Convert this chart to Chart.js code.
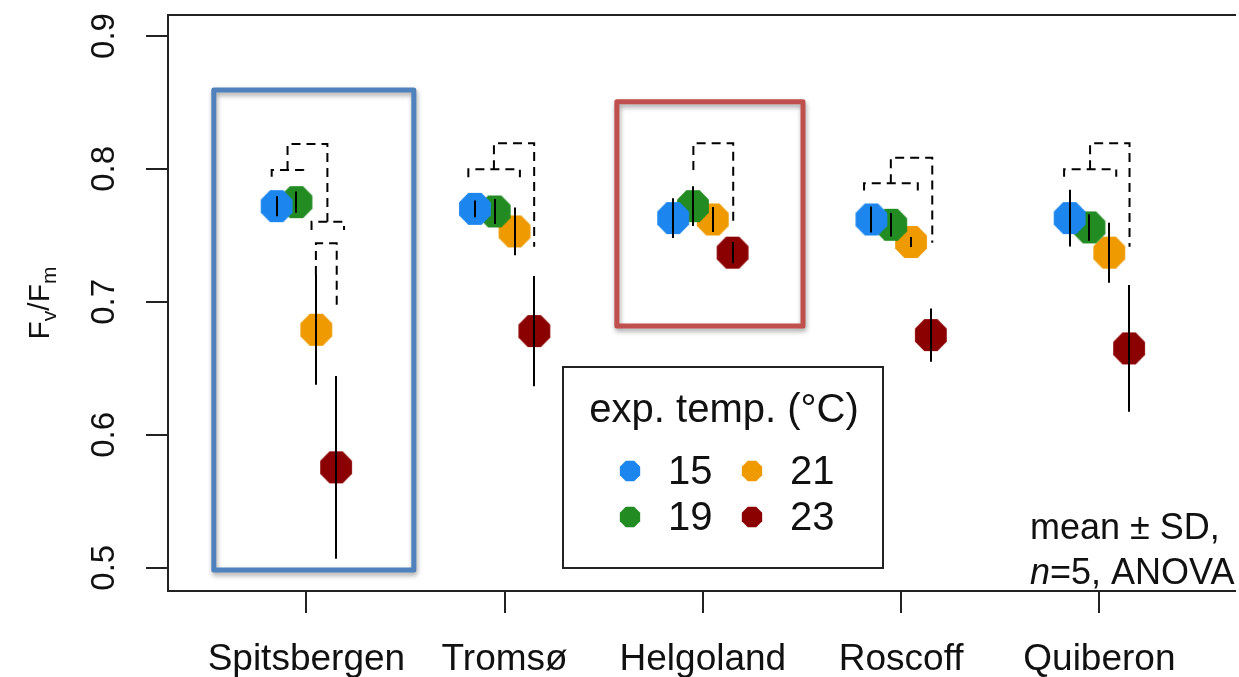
<!DOCTYPE html>
<html><head><meta charset="utf-8">
<script src="https://cdn.jsdelivr.net/npm/chart.js@4.4.1/dist/chart.umd.min.js"></script>
<style>html,body{margin:0;padding:0;background:#fff;overflow:hidden}#wrap{width:1239px;height:677px;position:relative}</style>
</head><body><div id="wrap"><canvas id="c" width="1239" height="677"></canvas></div>
<script>
// ---- data ----
const sites = ['Spitsbergen', 'Tromsø', 'Helgoland', 'Roscoff', 'Quiberon'];
const temps = ['15', '19', '21', '23'];
const colors = ['#1C86EE', '#228B22', '#EE9A00', '#8B0000'];
const offsets = [-0.15, -0.05, 0.05, 0.15];
const mean15 = [0.772, 0.770, 0.763, 0.762, 0.763];
const sd15   = [0.0075, 0.0063, 0.015, 0.0098, 0.0213];
const mean19 = [0.775, 0.768, 0.772, 0.758, 0.756];
const sd19   = [0.008, 0.0094, 0.015, 0.0088, 0.010];
const mean21 = [0.679, 0.753, 0.762, 0.745, 0.737];
const sd21   = [0.0414, 0.018, 0.0094, 0.0038, 0.0226];
const mean23 = [0.5755, 0.678, 0.737, 0.675, 0.665];
const sd23   = [0.0687, 0.0414, 0.008, 0.020, 0.0476];
const yTicks = [0.5, 0.6, 0.7, 0.8, 0.9];
// significance brackets: [site, left offset, right offset, top, left-leg bottom, right-leg bottom]
const brackets = [
  [0, -0.175, -0.016, 0.7992, 0.7942, 0.7942],
  [0, -0.095, 0.106, 0.8188, 0.7992, 0.7603],
  [0, 0.026, 0.190, 0.7603, 0.7541, 0.7541],
  [0, 0.048, 0.153, 0.7441, 0.7202, 0.6939],
  [1, -0.183, 0.077, 0.7998, 0.7938, 0.7938],
  [1, -0.054, 0.149, 0.8193, 0.7998, 0.7415],
  [2, -0.048, 0.153, 0.8193, 0.7992, 0.7591],
  [3, -0.187, 0.084, 0.7892, 0.7837, 0.7837],
  [3, -0.052, 0.157, 0.8085, 0.7892, 0.7445],
  [4, -0.178, 0.085, 0.7998, 0.7942, 0.7942],
  [4, -0.047, 0.152, 0.8193, 0.7998, 0.7415]
];
// highlight frames: [x left, x right, y bottom, y top, colour]
const frames = [
  [-0.467, 0.542, 0.4983, 0.8594, '#4F81BD'],
  [1.566, 2.505, 0.6819, 0.8506, '#C0504D']
];
const means = [mean15, mean19, mean21, mean23];
const sds = [sd15, sd19, sd21, sd23];

const FONT = "'Liberation Sans', Arial, sans-serif";

function octagon(color, size, r) {
  const c = document.createElement('canvas');
  c.width = c.height = size;
  const g = c.getContext('2d');
  const m = size / 2;
  g.beginPath();
  for (let j = 0; j < 8; j++) {
    const a = Math.PI / 8 + j * Math.PI / 4;
    const px = m + r * Math.cos(a), py = m + r * Math.sin(a);
    if (j) g.lineTo(px, py); else g.moveTo(px, py);
  }
  g.closePath();
  g.fillStyle = color;
  g.fill();
  return c;
}
const bigMarks = colors.map(c => octagon(c, 36, 17.2));
const smallMarks = colors.map(c => octagon(c, 24, 11));

const datasets = temps.map((t, k) => ({
  label: t,
  data: sites.map((s, i) => ({ x: i + offsets[k], y: means[k][i] })),
  showLine: false,
  pointStyle: bigMarks[k],
  backgroundColor: colors[k],
  borderColor: colors[k]
}));

const overlay = {
  id: 'overlay',
  afterDatasetsDraw(chart) {
    const ctx = chart.ctx, xs = chart.scales.x, ys = chart.scales.y, ca = chart.chartArea;
    ctx.save();
    // error bars
    ctx.strokeStyle = '#000';
    ctx.lineWidth = 2;
    for (let k = 0; k < temps.length; k++) {
      for (let i = 0; i < sites.length; i++) {
        const px = Math.round(xs.getPixelForValue(i + offsets[k]));
        ctx.beginPath();
        ctx.moveTo(px, ys.getPixelForValue(means[k][i] + sds[k][i]));
        ctx.lineTo(px, ys.getPixelForValue(means[k][i] - sds[k][i]));
        ctx.stroke();
      }
    }
    // brackets
    ctx.setLineDash([9, 6]);
    ctx.lineWidth = 2;
    for (const b of brackets) {
      const xl = xs.getPixelForValue(b[0] + b[1]), xr = xs.getPixelForValue(b[0] + b[2]);
      ctx.beginPath();
      ctx.moveTo(xl, ys.getPixelForValue(b[4]));
      ctx.lineTo(xl, ys.getPixelForValue(b[3]));
      ctx.lineTo(xr, ys.getPixelForValue(b[3]));
      ctx.lineTo(xr, ys.getPixelForValue(b[5]));
      ctx.stroke();
    }
    ctx.setLineDash([]);
    // plot box (top, left, bottom)
    ctx.lineWidth = 2;
    ctx.strokeStyle = '#222';
    ctx.beginPath();
    ctx.moveTo(ca.right + 2, ca.top);
    ctx.lineTo(ca.left, ca.top);
    ctx.lineTo(ca.left, ca.bottom);
    ctx.lineTo(ca.right + 2, ca.bottom);
    ctx.stroke();
    // y tick labels (rotated)
    ctx.fillStyle = '#111';
    ctx.font = '33px ' + FONT;
    ctx.textAlign = 'center';
    ctx.textBaseline = 'alphabetic';
    for (const v of yTicks) {
      ctx.save();
      ctx.translate(113.5, ys.getPixelForValue(v));
      ctx.rotate(-Math.PI / 2);
      ctx.fillText(v.toFixed(1), 0, 0);
      ctx.restore();
    }
    // y title F_v/F_m
    ctx.save();
    ctx.translate(49, (ca.top + ca.bottom) / 2);
    ctx.rotate(-Math.PI / 2);
    const big = '30px ' + FONT, sub = '21px ' + FONT;
    const parts = [['F', big, 0], ['v', sub, 7], ['/F', big, 0], ['m', sub, 7]];
    let tw = 0;
    for (const p of parts) { ctx.font = p[1]; tw += ctx.measureText(p[0]).width; }
    let cx = -tw / 2;
    ctx.textAlign = 'left';
    for (const p of parts) { ctx.font = p[1]; ctx.fillText(p[0], cx, p[2]); cx += ctx.measureText(p[0]).width; }
    ctx.restore();
    // highlight frames
    for (const f of frames) {
      const x1 = xs.getPixelForValue(f[0]), x2 = xs.getPixelForValue(f[1]);
      const y1 = ys.getPixelForValue(f[3]), y2 = ys.getPixelForValue(f[2]);
      ctx.save();
      ctx.shadowColor = 'rgba(0,0,0,0.35)';
      ctx.shadowBlur = 5;
      ctx.shadowOffsetX = 1;
      ctx.shadowOffsetY = 3;
      ctx.strokeStyle = f[4];
      ctx.lineWidth = 5;
      ctx.lineJoin = 'round';
      ctx.strokeRect(x1, y1, x2 - x1, y2 - y1);
      ctx.restore();
    }
    // legend
    const lx = 563, ly = 367, lw = 320, lh = 201;
    ctx.fillStyle = '#fff';
    ctx.fillRect(lx, ly, lw, lh);
    ctx.strokeStyle = '#222';
    ctx.lineWidth = 2;
    ctx.strokeRect(lx, ly, lw, lh);
    ctx.fillStyle = '#111';
    ctx.font = '40px ' + FONT;
    ctx.textAlign = 'center';
    ctx.textBaseline = 'middle';
    ctx.fillText('exp. temp. (°C)', lx + lw / 2 + 1, 411);
    ctx.textAlign = 'left';
    const cols = [630, 752], rows = [471, 517], order = [[0, 0], [1, 0], [0, 1], [1, 1]];
    for (let k = 0; k < temps.length; k++) {
      const [r, c] = order[k];
      const mk = smallMarks[k];
      ctx.drawImage(mk, cols[c] - mk.width / 2, rows[r] - mk.height / 2);
      ctx.fillText(temps[k], cols[c] + 38, rows[r] + 2);
    }
    // note
    ctx.font = '36px ' + FONT;
    ctx.textBaseline = 'alphabetic';
    ctx.fillText('mean ± SD,', 1030, 539);
    ctx.font = 'italic 36px ' + FONT;
    ctx.fillText('n', 1030, 584);
    const nw = ctx.measureText('n').width;
    ctx.font = '36px ' + FONT;
    ctx.fillText('=5, ANOVA', 1030 + nw, 584);
    ctx.restore();
  }
};

new Chart(document.getElementById('c'), {
  type: 'scatter',
  data: { datasets },
  options: {
    responsive: false,
    animation: false,
    devicePixelRatio: 1,
    layout: { padding: { top: 15, left: 0, right: 0, bottom: 0 } },
    plugins: { legend: { display: false }, tooltip: { enabled: false } },
    events: [],
    scales: {
      x: {
        type: 'linear',
        min: -0.698,
        max: 4.679,
        afterBuildTicks: s => { s.ticks = sites.map((n, i) => ({ value: i })); },
        afterFit: s => { s.height = 86; },
        ticks: {
          callback: v => sites[v] ?? '',
          autoSkip: false, maxRotation: 0, minRotation: 0,
          padding: 25,
          color: '#111',
          font: { family: FONT, size: 37 }
        },
        grid: { drawOnChartArea: false, drawTicks: true, tickLength: 22, color: '#222', lineWidth: 2 },
        border: { display: false }
      },
      y: {
        type: 'linear',
        min: 0.4825,
        max: 0.9158,
        afterBuildTicks: s => { s.ticks = yTicks.map(v => ({ value: v })); },
        afterFit: s => { s.width = 168; },
        ticks: { display: false },
        grid: { drawOnChartArea: false, drawTicks: true, tickLength: 22, color: '#222', lineWidth: 2 },
        border: { display: false }
      }
    }
  },
  plugins: [overlay]
});
</script>
</body></html>
